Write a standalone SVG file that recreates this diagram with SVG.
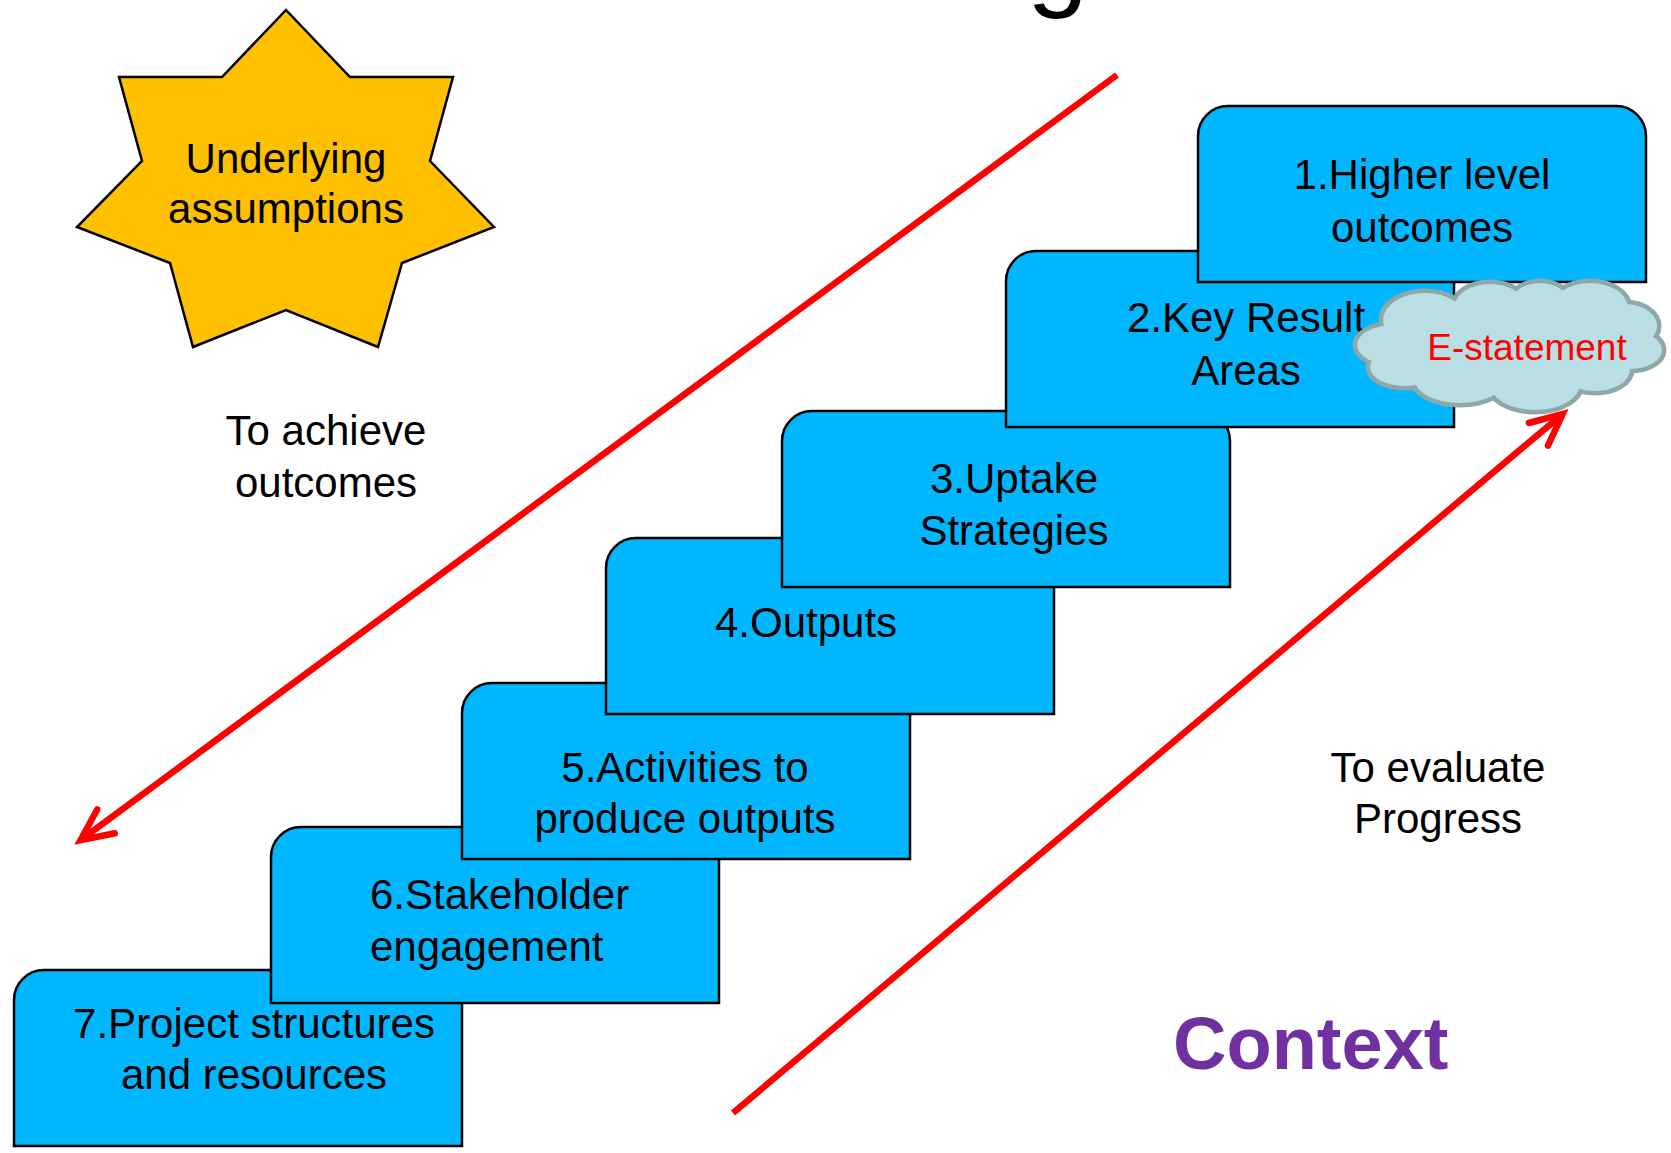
<svg xmlns="http://www.w3.org/2000/svg" xmlns:xlink="http://www.w3.org/1999/xlink" width="1671" height="1153" viewBox="0 0 1671 1153">
  <style>
    text { font-family: "Liberation Sans", Arial, sans-serif; fill: #000; }
    .lbl { font-size: 42px; text-anchor: middle; }
    .lbl-left { font-size: 42px; text-anchor: start; }
    .step { fill: #00B7FF; stroke: #000; stroke-width: 2.5; }
    .star { fill: #FFC000; stroke: #000; stroke-width: 2.5; stroke-linejoin: miter; }
    .cloud-edge { fill: #8EA8AA; stroke: #8EA8AA; stroke-width: 9; }
    .cloud-fill { fill: #B9DFE4; stroke: none; }
    .flow { fill: none; stroke: #FF0000; stroke-width: 6.5; stroke-linecap: butt; }
    .context { font-size: 74px; font-weight: bold; fill: #7030A0; }
    .estatement { font-size: 37px; text-anchor: middle; fill: #FF0000; }
  </style>
  <defs>
    <!-- step box: rectangle with the two top corners rounded -->
    <path id="step-shape" d="M0,176 V30 A30,30 0 0 1 30,0 H418 A30,30 0 0 1 448,30 V176 Z"/>
    <!-- lobes of the cloud callout; unioned by stroking first, filling second -->
    <g id="cloud-lobes">
      <ellipse cx="1395" cy="345" rx="38" ry="20"/>
      <ellipse cx="1425" cy="320" rx="42" ry="27"/>
      <ellipse cx="1490" cy="306" rx="35" ry="22"/>
      <ellipse cx="1540" cy="305" rx="30" ry="22"/>
      <ellipse cx="1590" cy="308" rx="38" ry="25"/>
      <ellipse cx="1625" cy="326" rx="32" ry="22"/>
      <ellipse cx="1630" cy="350" rx="32" ry="19"/>
      <ellipse cx="1595" cy="370" rx="35" ry="21"/>
      <ellipse cx="1535" cy="384" rx="45" ry="26"/>
      <ellipse cx="1460" cy="380" rx="45" ry="23"/>
      <ellipse cx="1405" cy="367" rx="35" ry="19"/>
      <ellipse cx="1510" cy="345" rx="110" ry="45"/>
    </g>
    <marker id="open-arrow" viewBox="-45 -25 55 50" markerWidth="55" markerHeight="50" refX="0" refY="0" orient="auto" markerUnits="userSpaceOnUse">
      <path d="M-31.7,-14.8 L0,0 L-31.7,14.8" fill="none" stroke="#FF0000" stroke-width="6.5" stroke-linecap="round" stroke-linejoin="miter" stroke-miterlimit="10"/>
    </marker>
  </defs>

  <!-- title, clipped by the top edge -->
  <text x="1027" y="-4" style="font-size:110px">g</text>

  <!-- steps, drawn bottom-up so each higher step overlaps the one below -->
  <g id="step-7">
    <use xlink:href="#step-shape" href="#step-shape" class="step" x="14" y="970"/>
    <text class="lbl" x="254" y="1038">7.Project structures</text>
    <text class="lbl" x="254" y="1089">and resources</text>
  </g>
  <g id="step-6">
    <use xlink:href="#step-shape" href="#step-shape" class="step" x="271" y="827"/>
    <text class="lbl-left" x="370" y="909">6.Stakeholder</text>
    <text class="lbl-left" x="370" y="961">engagement</text>
  </g>
  <g id="step-5">
    <use xlink:href="#step-shape" href="#step-shape" class="step" x="462" y="683"/>
    <text class="lbl" x="685" y="782">5.Activities to</text>
    <text class="lbl" x="685" y="833">produce outputs</text>
  </g>
  <g id="step-4">
    <use xlink:href="#step-shape" href="#step-shape" class="step" x="606" y="538"/>
    <text class="lbl" x="806" y="637">4.Outputs</text>
  </g>
  <g id="step-3">
    <use xlink:href="#step-shape" href="#step-shape" class="step" x="782" y="411"/>
    <text class="lbl" x="1014" y="493">3.Uptake</text>
    <text class="lbl" x="1014" y="545">Strategies</text>
  </g>
  <g id="step-2">
    <use xlink:href="#step-shape" href="#step-shape" class="step" x="1006" y="251"/>
    <text class="lbl" x="1246" y="332">2.Key Result</text>
    <text class="lbl" x="1246" y="385">Areas</text>
  </g>
  <g id="step-1">
    <use xlink:href="#step-shape" href="#step-shape" class="step" x="1198" y="106"/>
    <text class="lbl" x="1422" y="189">1.Higher level</text>
    <text class="lbl" x="1422" y="242">outcomes</text>
  </g>

  <!-- cloud callout -->
  <g id="e-statement">
    <use xlink:href="#cloud-lobes" href="#cloud-lobes" class="cloud-edge"/>
    <use xlink:href="#cloud-lobes" href="#cloud-lobes" class="cloud-fill"/>
    <text class="estatement" x="1527" y="360">E-statement</text>
  </g>

  <!-- seven-point star -->
  <g id="assumptions">
    <polygon class="star" points="286,10 350,77 453,77 430,161 494,227 402,263 378,347 286,310 193,347 170,263 77,227 142,161 119,77 222,77"/>
    <text class="lbl" x="286" y="173">Underlying</text>
    <text class="lbl" x="286" y="223">assumptions</text>
  </g>

  <g id="label-achieve">
    <text class="lbl" x="326" y="445">To achieve</text>
    <text class="lbl" x="326" y="497">outcomes</text>
  </g>
  <g id="label-evaluate">
    <text class="lbl" x="1438" y="782">To evaluate</text>
    <text class="lbl" x="1438" y="833">Progress</text>
  </g>
  <g id="label-context">
    <text class="context" x="1173" y="1069">Context</text>
  </g>

  <!-- direction arrows -->
  <g id="connectors">
    <line class="flow" x1="1117" y1="75" x2="80.5" y2="840.2" marker-end="url(#open-arrow)"/>
    <line class="flow" x1="733" y1="1113" x2="1562.7" y2="413.9" marker-end="url(#open-arrow)"/>
  </g>
</svg>
